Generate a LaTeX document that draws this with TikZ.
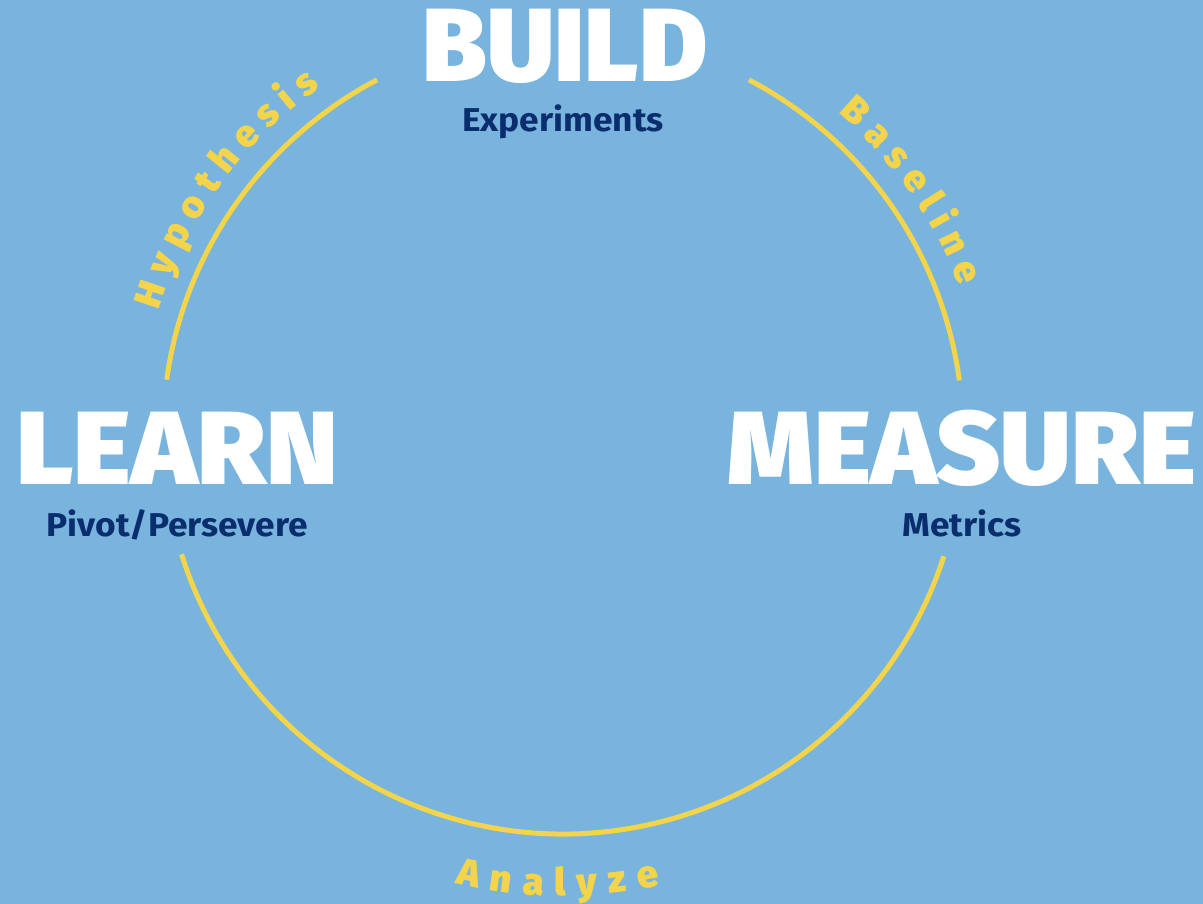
\documentclass[tikz,border=0pt]{standalone}
\usepackage{fontspec}
\setmainfont{Fira Sans}
\newfontfamily\heavy{Fira Sans Black}
\usetikzlibrary{decorations.text}
\definecolor{bg}{HTML}{78B4DE}
\definecolor{ylw}{HTML}{F4D44A}
\definecolor{navy}{HTML}{0A2D6E}
\tikzset{
  ring/.style={draw=ylw,line width=5pt},
  stage/.style={inner sep=0pt,anchor=base,text=white,font=\heavy\fontsize{104}{110}\selectfont},
  sublabel/.style={inner sep=0pt,anchor=base,text=navy,xscale=1.07,font=\bfseries\fontsize{33}{36}\selectfont},
  arclabel/.style={decorate,decoration={text along path,text={|\arcfont|#1},text align={fit to path},text color=ylw}},
}
\newcommand\arcfont{\heavy\fontsize{38}{40}\selectfont}
\begin{document}
\begin{tikzpicture}[x=1pt,y=1pt]
\fill[bg] (0,0) rectangle (1203,904);
\useasboundingbox (0,0) rectangle (1203,904);
\coordinate (c) at (563,470);
% ring segments
\draw[ring] (c) ++(117.7:400) arc[start angle=117.7,end angle=172.2,radius=400];
\draw[ring] (c) ++(62.3:400) arc[start angle=62.3,end angle=7.7,radius=400];
\draw[ring] (c) ++(197.5:400) arc[start angle=197.5,end angle=342.2,radius=400];
% curved labels
\path[arclabel=Hypothesis]
  (c) ++(163:423) arc[start angle=163,end angle=125,radius=423];
\path[arclabel=Baseline]
  (c) ++(49.4:423) arc[start angle=49.4,end angle=20.4,radius=423];
\path[arclabel=Analyze]
  (c) ++(256.5:462) arc[start angle=256.5,end angle=282.1,radius=462];
% stages
\node[stage] (build) at (565,822) {BUILD};
\node[sublabel] (exp) at (563,772) {Experiments};
\node[stage,xscale=1.06] (learn) at (177,419) {LEARN};
\node[sublabel] (pivot) at (177,367) {Pivot/Persevere};
\node[stage,xscale=1.05] (measure) at (962,419) {MEASURE};
\node[sublabel] (metrics) at (962,367) {Metrics};
\end{tikzpicture}
\end{document}
